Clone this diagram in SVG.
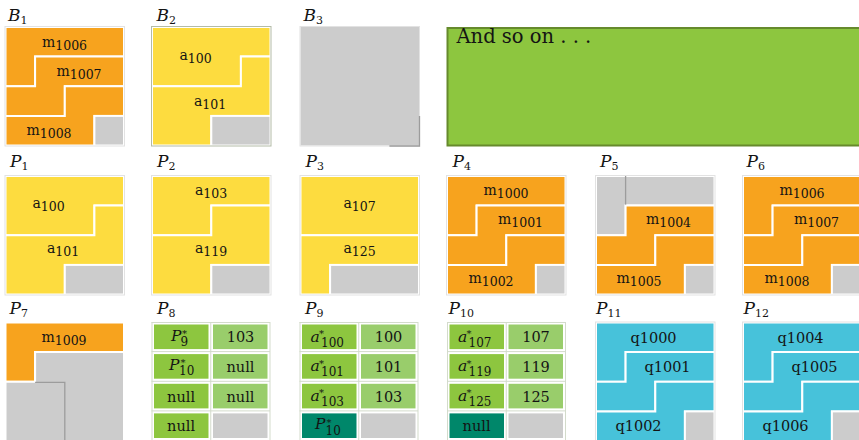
<svg xmlns="http://www.w3.org/2000/svg" width="859" height="440" viewBox="0 0 859 440">
<style>
.pc{stroke:#fff;stroke-width:2;stroke-linejoin:miter}
.or{fill:#F7A31E}
.ye{fill:#FDDC3F}
.gr{fill:#CCCCCC}
.cy{fill:#47C2DA}
.dk{fill:#8DC63F}
.lt{fill:#99CD6B}
.tl{fill:#00876A}
.bd{fill:none;stroke:#e2e2e2;stroke-width:1}
.edge{fill:none;stroke:#9c9c9c;stroke-width:1.3}
.grid{fill:none;stroke:#d3dbcb;stroke-width:1}
.t{font-family:"DejaVu Serif",serif;font-size:14px;fill:#141414}
.q{font-family:"DejaVu Serif",serif;font-size:14.5px;fill:#141414}
.s{font-size:12.5px}
.n{font-family:"DejaVu Serif",serif;font-size:14.5px;fill:#141414;text-anchor:middle}
.lbl{font-family:"DejaVu Serif",serif;font-style:italic;font-size:17px;fill:#141414}
.ls{font-style:normal;font-size:11px}
.it{font-family:"DejaVu Serif",serif;font-style:italic;font-size:15.5px;fill:#141414}
.st{font-style:normal;font-size:10px}
.sb{font-style:normal;font-size:12px}
</style>
<defs>
<polygon id="a1" points="0,0 118.5,0 118.5,29.6 29.6,29.6 29.6,59.3 0,59.3"/>
<polygon id="a2" points="29.6,29.6 118.5,29.6 118.5,59.3 59.3,59.3 59.3,88.9 0,88.9 0,59.3 29.6,59.3"/>
<polygon id="a3" points="59.3,59.3 118.5,59.3 118.5,88.9 88.9,88.9 88.9,118.5 0,118.5 0,88.9 59.3,88.9"/>
<rect id="a4" x="88.9" y="88.9" width="29.6" height="29.6"/>
<polygon id="b1" points="0,0 118.5,0 118.5,29.6 88.9,29.6 88.9,59.3 0,59.3"/>
<polygon id="b2" points="88.9,29.6 118.5,29.6 118.5,88.9 59.3,88.9 59.3,118.5 0,118.5 0,59.3 88.9,59.3"/>
<rect id="b3" x="59.3" y="88.9" width="59.2" height="29.6"/>
<polygon id="c1" points="0,0 118.5,0 118.5,29.6 59.3,29.6 59.3,59.3 0,59.3"/>
<polygon id="c2" points="59.3,29.6 118.5,29.6 118.5,88.9 59.3,88.9 59.3,118.5 0,118.5 0,59.3 59.3,59.3"/>
<rect id="d1" x="0" y="0" width="118.5" height="59.3"/>
<polygon id="d2" points="0,59.3 118.5,59.3 118.5,88.9 29.6,88.9 29.6,118.5 0,118.5"/>
<rect id="d3" x="29.6" y="88.9" width="88.9" height="29.6"/>
<rect id="bx" x="-0.5" y="-0.5" width="119.5" height="119.5"/>
</defs>

<!-- Row 1 -->
<g id="B1" transform="translate(5.5,27)">
<use href="#a1" class="pc or"/><use href="#a2" class="pc or"/><use href="#a3" class="pc or"/><use href="#a4" class="pc gr"/>
<use href="#bx" class="bd"/>
<text class="t" x="59" y="19.5" text-anchor="middle">m<tspan class="s" dy="3">1006</tspan></text>
<text class="t" x="73.5" y="48.5" text-anchor="middle">m<tspan class="s" dy="3">1007</tspan></text>
<text class="t" x="43.5" y="107.5" text-anchor="middle">m<tspan class="s" dy="3">1008</tspan></text>
</g>
<text class="lbl" x="8" y="20.5">B<tspan class="ls" dy="3.5">1</tspan></text>

<g id="B2" transform="translate(152,27)">
<use href="#b1" class="pc ye"/><use href="#b2" class="pc ye"/><use href="#b3" class="pc gr"/>
<rect x="-0.5" y="-0.5" width="119.5" height="119.5" fill="none" stroke="#b3bba7" stroke-width="1"/>
<text class="t" x="43.5" y="33" text-anchor="middle">a<tspan class="s" dy="3">100</tspan></text>
<text class="t" x="58" y="78.5" text-anchor="middle">a<tspan class="s" dy="3">101</tspan></text>
</g>
<text class="lbl" x="156.5" y="20.5">B<tspan class="ls" dy="3.5">2</tspan></text>

<g id="B3" transform="translate(300.5,27)">
<rect x="0" y="0" width="118.5" height="118.5" class="gr"/>
<use href="#bx" class="bd"/>
<path class="edge" d="M119,88.9V119H88.9"/>
</g>
<text class="lbl" x="303.5" y="20.5">B<tspan class="ls" dy="3.5">3</tspan></text>

<g id="more">
<rect x="447.5" y="28" width="420" height="117.5" fill="#8DC63F" stroke="#668A2C" stroke-width="2"/>
<text x="456.5" y="43.3" font-family="DejaVu Serif, serif" font-size="19.5" fill="#141414">And so on . . .</text>
</g>

<!-- Row 2 -->
<g id="P1" transform="translate(5.5,176)">
<use href="#b1" class="pc ye"/><use href="#b2" class="pc ye"/><use href="#b3" class="pc gr"/>
<use href="#bx" class="bd"/>
<text class="t" x="43" y="31.5" text-anchor="middle">a<tspan class="s" dy="3">100</tspan></text>
<text class="t" x="57.5" y="77" text-anchor="middle">a<tspan class="s" dy="3">101</tspan></text>
</g>
<text class="lbl" x="10" y="166.5">P<tspan class="ls" dy="3.5">1</tspan></text>

<g id="P2" transform="translate(152,176)">
<use href="#c1" class="pc ye"/><use href="#c2" class="pc ye"/><use href="#b3" class="pc gr"/>
<use href="#bx" class="bd"/>
<text class="t" x="59" y="18.5" text-anchor="middle">a<tspan class="s" dy="3">103</tspan></text>
<text class="t" x="59" y="77" text-anchor="middle">a<tspan class="s" dy="3">119</tspan></text>
</g>
<text class="lbl" x="157" y="166.5">P<tspan class="ls" dy="3.5">2</tspan></text>

<g id="P3" transform="translate(300.5,176)">
<use href="#d1" class="pc ye"/><use href="#d2" class="pc ye"/><use href="#d3" class="pc gr"/>
<use href="#bx" class="bd"/>
<text class="t" x="59" y="31.5" text-anchor="middle">a<tspan class="s" dy="3">107</tspan></text>
<text class="t" x="59" y="77" text-anchor="middle">a<tspan class="s" dy="3">125</tspan></text>
</g>
<text class="lbl" x="305.5" y="166.5">P<tspan class="ls" dy="3.5">3</tspan></text>

<g id="P4" transform="translate(447,176)">
<use href="#a1" class="pc or"/><use href="#a2" class="pc or"/><use href="#a3" class="pc or"/><use href="#a4" class="pc gr"/>
<use href="#bx" class="bd"/>
<text class="t" x="59" y="18.5" text-anchor="middle">m<tspan class="s" dy="3">1000</tspan></text>
<text class="t" x="73.5" y="48" text-anchor="middle">m<tspan class="s" dy="3">1001</tspan></text>
<text class="t" x="44" y="107" text-anchor="middle">m<tspan class="s" dy="3">1002</tspan></text>
</g>
<text class="lbl" x="452.5" y="166.5">P<tspan class="ls" dy="3.5">4</tspan></text>

<g id="P5" transform="translate(596,176)">
<use href="#a1" class="pc gr"/><use href="#a2" class="pc or"/><use href="#a3" class="pc or"/><use href="#a4" class="pc gr"/>
<use href="#bx" class="bd"/>
<path class="edge" d="M29.6,0V28.6" stroke="#a8a8a8"/>
<text class="t" x="72.5" y="48" text-anchor="middle">m<tspan class="s" dy="3">1004</tspan></text>
<text class="t" x="43" y="107" text-anchor="middle">m<tspan class="s" dy="3">1005</tspan></text>
</g>
<text class="lbl" x="600" y="166.5">P<tspan class="ls" dy="3.5">5</tspan></text>

<g id="P6" transform="translate(743,176)">
<use href="#a1" class="pc or"/><use href="#a2" class="pc or"/><use href="#a3" class="pc or"/><use href="#a4" class="pc gr"/>
<use href="#bx" class="bd"/>
<text class="t" x="59" y="18.5" text-anchor="middle">m<tspan class="s" dy="3">1006</tspan></text>
<text class="t" x="73.5" y="48" text-anchor="middle">m<tspan class="s" dy="3">1007</tspan></text>
<text class="t" x="44" y="107" text-anchor="middle">m<tspan class="s" dy="3">1008</tspan></text>
</g>
<text class="lbl" x="746.5" y="166.5">P<tspan class="ls" dy="3.5">6</tspan></text>

<!-- Row 3 -->
<g id="P7" transform="translate(5.5,322.5)">
<use href="#a1" class="pc or"/>
<polygon class="pc gr" points="29.6,29.6 118.5,29.6 118.5,118.5 0,118.5 0,59.3 29.6,59.3"/>
<path class="edge" d="M29.6,59.8H59.3V120" stroke="#aaaaaa"/>
<text class="t" x="58.5" y="19.5" text-anchor="middle">m<tspan class="s" dy="3">1009</tspan></text>
</g>
<text class="lbl" x="9.5" y="313.5">P<tspan class="ls" dy="3.5">7</tspan></text>

<g id="P8" transform="translate(151.5,322)">
<path class="grid" d="M0,0.5H118.5M0.5,0V120M59.25,0V120M118.5,0V120M0,29.6H118.5M0,59.3H118.5M0,88.9H118.5"/>
<rect class="dk" x="2.5" y="2.5" width="54.5" height="24.6"/>
<rect class="lt" x="61.5" y="2.5" width="54.5" height="24.6"/>
<rect class="dk" x="2.5" y="32.1" width="54.5" height="24.6"/>
<rect class="lt" x="61.5" y="32.1" width="54.5" height="24.6"/>
<rect class="dk" x="2.5" y="61.8" width="54.5" height="24.6"/>
<rect class="lt" x="61.5" y="61.8" width="54.5" height="24.6"/>
<rect class="dk" x="2.5" y="91.4" width="54.5" height="24.6"/>
<rect class="gr" x="61.5" y="91.4" width="54.5" height="24.6"/>
<text class="it" x="19.5" y="18.5">P<tspan class="st" x="30.5" y="15">*</tspan><tspan class="sb" x="29" y="23.5">9</tspan></text>
<text class="it" x="17.5" y="47.6">P<tspan class="st" x="29" y="44.3">*</tspan><tspan class="sb" x="27.5" y="53.3">10</tspan></text>
<text class="n" x="29.6" y="79.8">null</text>
<text class="n" x="29.6" y="109.4">null</text>
<text class="n" x="89" y="20.3">103</text>
<text class="n" x="89" y="50.1">null</text>
<text class="n" x="89" y="79.8">null</text>
</g>
<text class="lbl" x="157" y="313.5">P<tspan class="ls" dy="3.5">8</tspan></text>

<g id="P9" transform="translate(299.5,322)">
<path class="grid" d="M0,0.5H118.5M0.5,0V120M59.25,0V120M118.5,0V120M0,29.6H118.5M0,59.3H118.5M0,88.9H118.5"/>
<rect class="dk" x="2.5" y="2.5" width="54.5" height="24.6"/>
<rect class="lt" x="61.5" y="2.5" width="54.5" height="24.6"/>
<rect class="dk" x="2.5" y="32.1" width="54.5" height="24.6"/>
<rect class="lt" x="61.5" y="32.1" width="54.5" height="24.6"/>
<rect class="dk" x="2.5" y="61.8" width="54.5" height="24.6"/>
<rect class="lt" x="61.5" y="61.8" width="54.5" height="24.6"/>
<rect class="tl" x="2.5" y="91.4" width="54.5" height="24.6"/>
<rect class="gr" x="61.5" y="91.4" width="54.5" height="24.6"/>
<text class="it" x="11" y="19.5">a<tspan class="st" x="19.5" y="15">*</tspan><tspan class="sb" x="21.5" y="24.5">100</tspan></text>
<text class="it" x="11" y="49.1">a<tspan class="st" x="19.5" y="44.6">*</tspan><tspan class="sb" x="21.5" y="54.1">101</tspan></text>
<text class="it" x="11" y="78.8">a<tspan class="st" x="19.5" y="74.3">*</tspan><tspan class="sb" x="21.5" y="83.8">103</tspan></text>
<text class="it" x="15.5" y="106.9">P<tspan class="st" x="27" y="103.5">*</tspan><tspan class="sb" x="26" y="112.6">10</tspan></text>
<text class="n" x="89" y="20.3">100</text>
<text class="n" x="89" y="50">101</text>
<text class="n" x="89" y="79.6">103</text>
</g>
<text class="lbl" x="305" y="313.5">P<tspan class="ls" dy="3.5">9</tspan></text>

<g id="P10" transform="translate(447,322)">
<path class="grid" d="M0,0.5H118.5M0.5,0V120M59.25,0V120M118.5,0V120M0,29.6H118.5M0,59.3H118.5M0,88.9H118.5"/>
<rect class="dk" x="2.5" y="2.5" width="54.5" height="24.6"/>
<rect class="lt" x="61.5" y="2.5" width="54.5" height="24.6"/>
<rect class="dk" x="2.5" y="32.1" width="54.5" height="24.6"/>
<rect class="lt" x="61.5" y="32.1" width="54.5" height="24.6"/>
<rect class="dk" x="2.5" y="61.8" width="54.5" height="24.6"/>
<rect class="lt" x="61.5" y="61.8" width="54.5" height="24.6"/>
<rect class="tl" x="2.5" y="91.4" width="54.5" height="24.6"/>
<rect class="gr" x="61.5" y="91.4" width="54.5" height="24.6"/>
<text class="it" x="11" y="19.5">a<tspan class="st" x="19.5" y="15">*</tspan><tspan class="sb" x="21.5" y="24.5">107</tspan></text>
<text class="it" x="11" y="49.1">a<tspan class="st" x="19.5" y="44.6">*</tspan><tspan class="sb" x="21.5" y="54.1">119</tspan></text>
<text class="it" x="11" y="78.8">a<tspan class="st" x="19.5" y="74.3">*</tspan><tspan class="sb" x="21.5" y="83.8">125</tspan></text>
<text class="n" x="29.6" y="109.4">null</text>
<text class="n" x="89" y="20.3">107</text>
<text class="n" x="89" y="50">119</text>
<text class="n" x="89" y="79.6">125</text>
</g>
<text class="lbl" x="448.5" y="313.5">P<tspan class="ls" dy="3.5">10</tspan></text>

<g id="P11" transform="translate(596,322.5)">
<use href="#a1" class="pc cy"/><use href="#a2" class="pc cy"/><use href="#a3" class="pc cy"/><use href="#a4" class="pc gr"/>
<use href="#bx" class="bd"/>
<text class="q" x="57.5" y="20" text-anchor="middle">q1000</text>
<text class="q" x="71.5" y="49.5" text-anchor="middle">q1001</text>
<text class="q" x="42.5" y="108" text-anchor="middle">q1002</text>
</g>
<text class="lbl" x="596" y="313.5">P<tspan class="ls" dy="3.5">11</tspan></text>

<g id="P12" transform="translate(743,322.5)">
<use href="#a1" class="pc cy"/><use href="#a2" class="pc cy"/><use href="#a3" class="pc cy"/><use href="#a4" class="pc gr"/>
<use href="#bx" class="bd"/>
<text class="q" x="57.5" y="20" text-anchor="middle">q1004</text>
<text class="q" x="71.5" y="49.5" text-anchor="middle">q1005</text>
<text class="q" x="42.5" y="108" text-anchor="middle">q1006</text>
</g>
<text class="lbl" x="743.5" y="313.5">P<tspan class="ls" dy="3.5">12</tspan></text>

<g id="connectors"></g>
</svg>
